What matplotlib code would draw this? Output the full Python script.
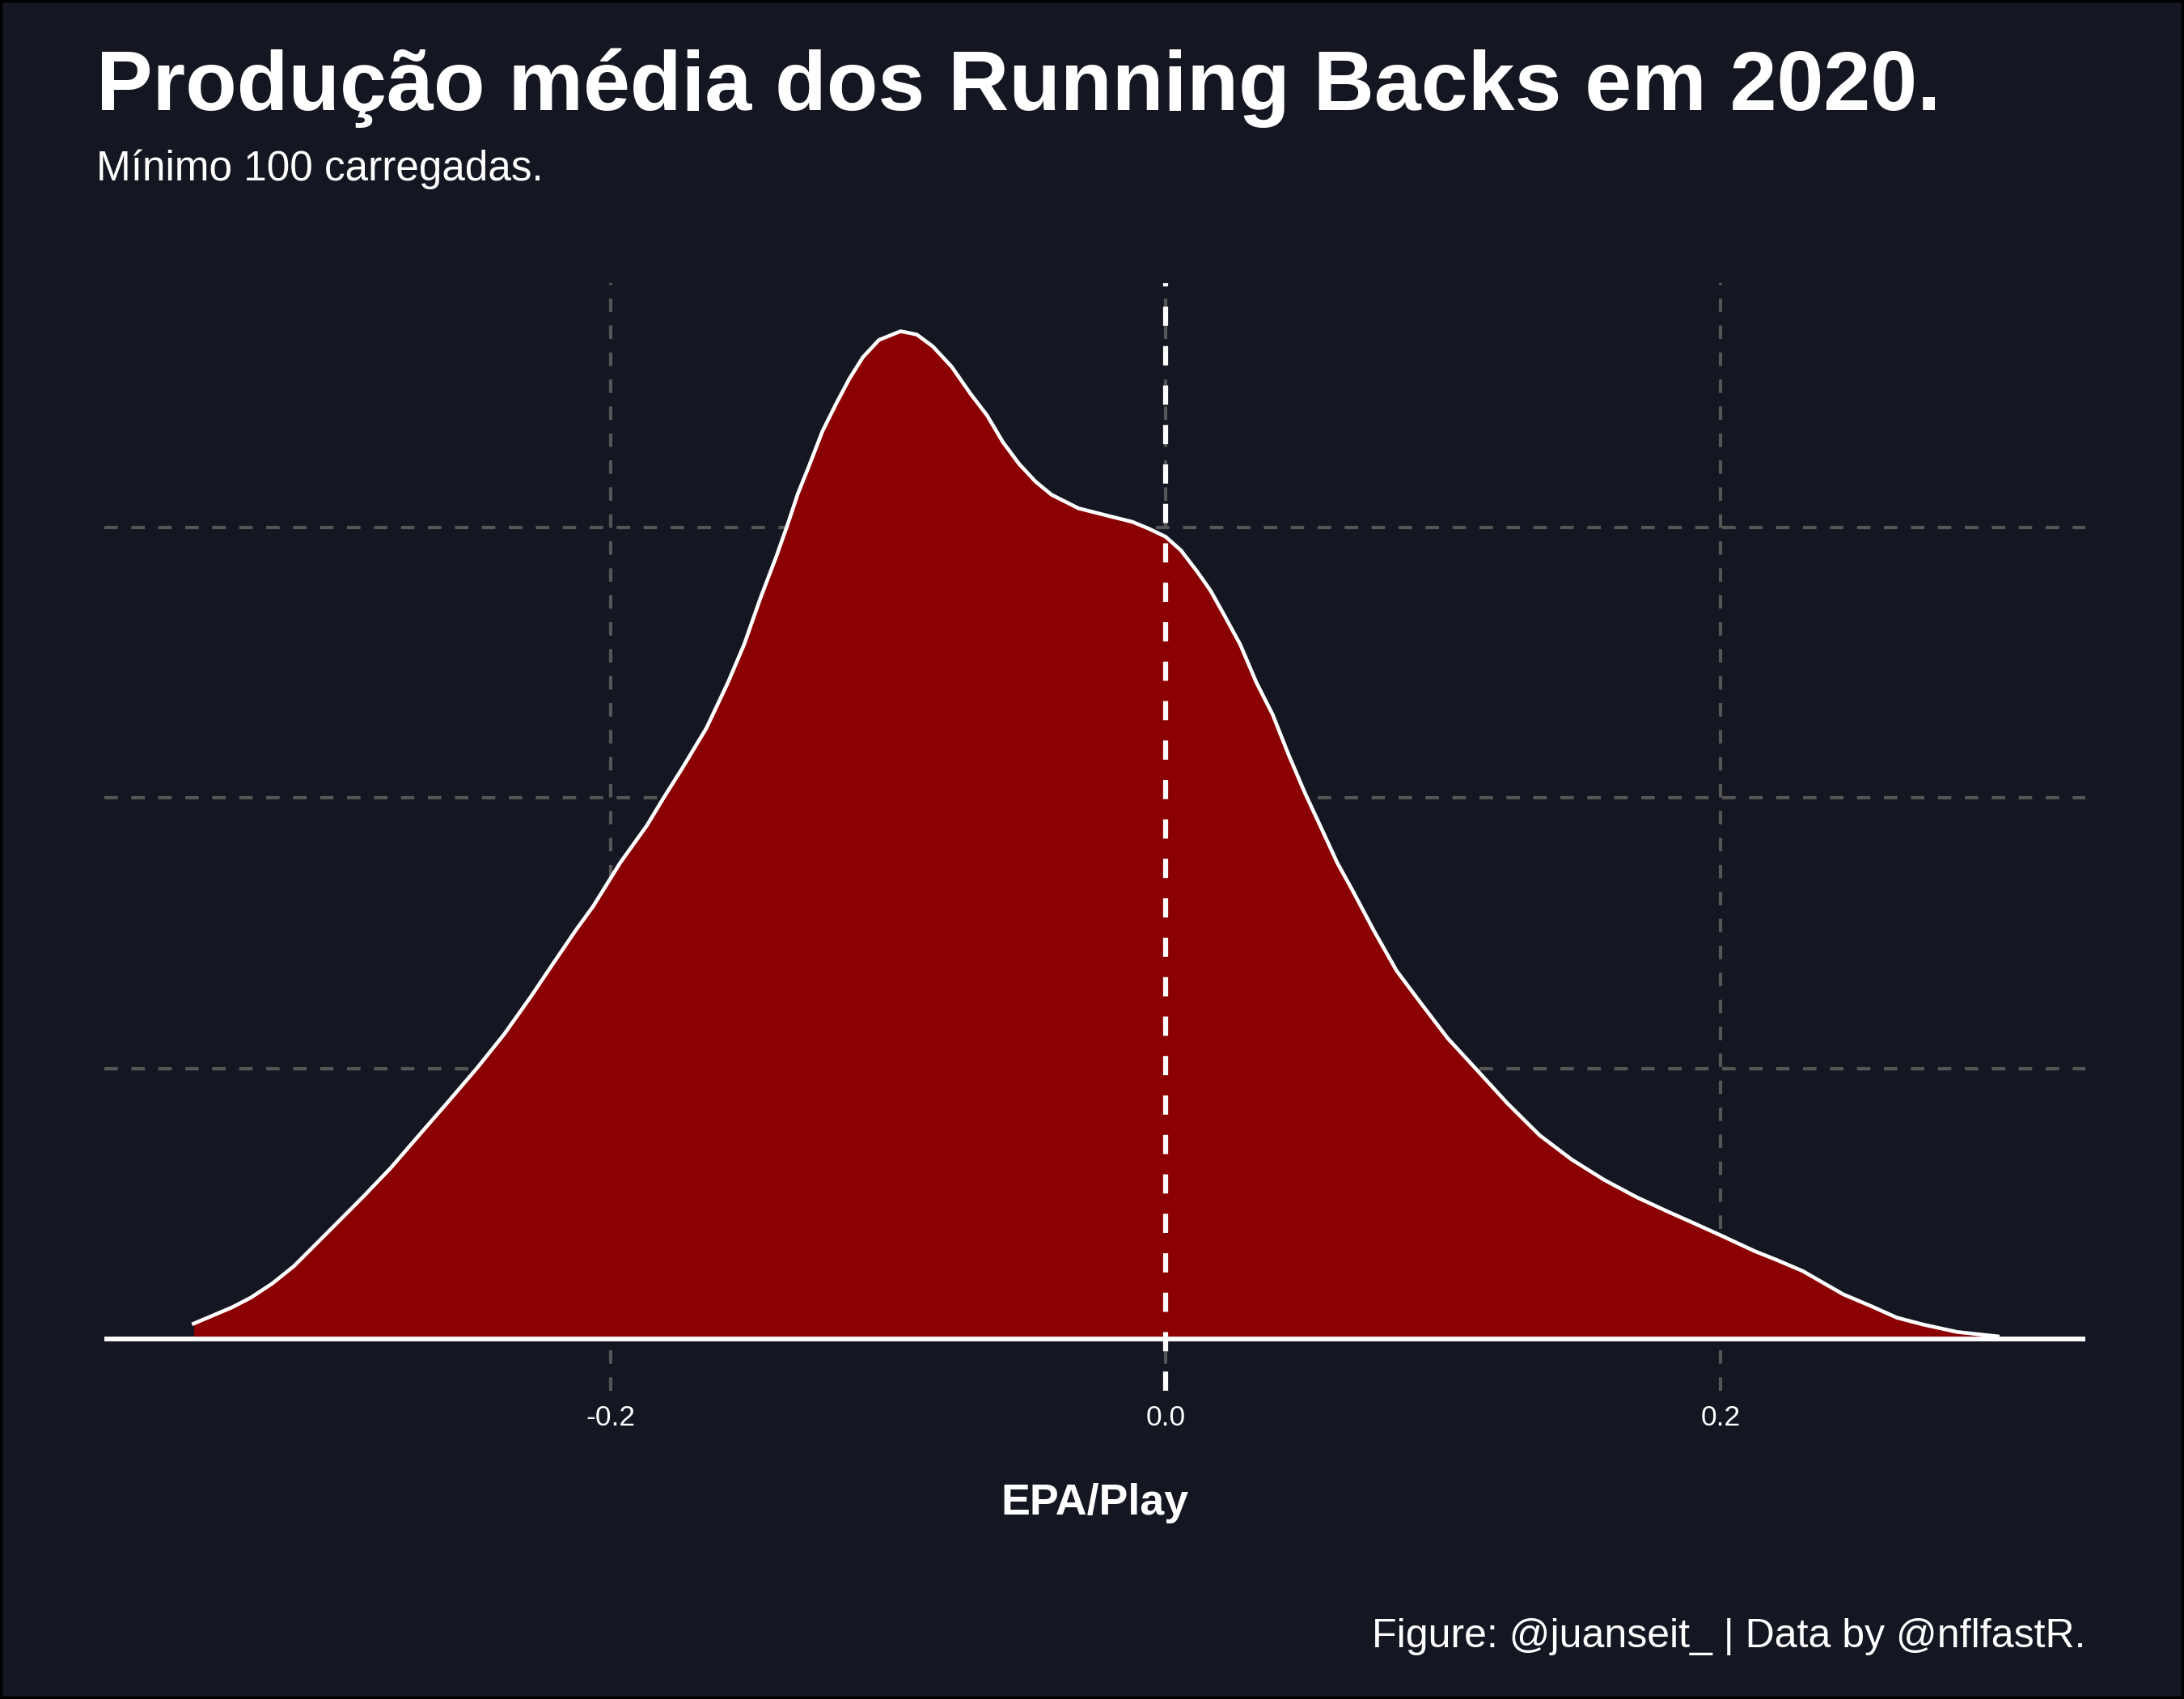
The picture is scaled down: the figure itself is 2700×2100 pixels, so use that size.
import matplotlib
matplotlib.use("Agg")
import matplotlib.pyplot as plt
from matplotlib.patches import Rectangle

# ---- data (EPA/Play vs density) ----
epa = [-0.3503, -0.3434, -0.3365, -0.3297, -0.3220, -0.3142, -0.3064, -0.2986,
       -0.2889, -0.2792, -0.2695, -0.2598, -0.2481, -0.2384, -0.2287, -0.2209,
       -0.2126, -0.2063, -0.1966, -0.1869, -0.1810, -0.1743, -0.1655, -0.1577,
       -0.1519, -0.1461, -0.1402, -0.1364, -0.1325, -0.1286, -0.1237, -0.1189,
       -0.1140, -0.1091, -0.1033, -0.0955, -0.0897, -0.0839, -0.0771, -0.0703,
       -0.0644, -0.0586, -0.0528, -0.0469, -0.0411, -0.0314, -0.0187, -0.0120,
       -0.0061, 0.0000, 0.0055, 0.0114, 0.0162, 0.0211, 0.0269, 0.0327,
       0.0386, 0.0444, 0.0502, 0.0561, 0.0619, 0.0673, 0.0750, 0.0833,
       0.0920, 0.1017, 0.1115, 0.1231, 0.1348, 0.1464, 0.1581, 0.1698,
       0.1814, 0.1902, 0.1999, 0.2125, 0.2201, 0.2297, 0.2443, 0.2540,
       0.2636, 0.2733, 0.2854, 0.2999]
density = [0.058, 0.088, 0.118, 0.154, 0.206, 0.270, 0.350, 0.430,
           0.530, 0.634, 0.749, 0.863, 1.003, 1.127, 1.267, 1.386,
           1.511, 1.600, 1.760, 1.899, 1.999, 2.108, 2.258, 2.427,
           2.567, 2.736, 2.895, 3.005, 3.125, 3.224, 3.354, 3.453,
           3.548, 3.628, 3.692, 3.724, 3.712, 3.668, 3.593, 3.493,
           3.414, 3.314, 3.234, 3.169, 3.120, 3.070, 3.037, 3.020,
           2.995, 2.965, 2.915, 2.836, 2.766, 2.676, 2.567, 2.427,
           2.308, 2.158, 2.019, 1.889, 1.760, 1.660, 1.511, 1.361,
           1.242, 1.112, 1.003, 0.873, 0.754, 0.664, 0.589, 0.525,
           0.470, 0.430, 0.385, 0.325, 0.294, 0.252, 0.166, 0.124,
           0.080, 0.054, 0.027, 0.011]
x_ticks = [-0.2, 0.0, 0.2]
x_tick_labels = ["-0.2", "0.0", "0.2"]
y_grid = [1, 2, 3]
ref_line = 0.0

title = "Produção média dos Running Backs em 2020."
subtitle = "Mínimo 100 carregadas."
xlabel = "EPA/Play"
caption = "Figure: @juanseit_ | Data by @nflfastR."

BG = "#141721"
FILL = "#8B0000"
GRID = "#555555"

plt.rcParams['font.family'] = ['Liberation Sans', 'DejaVu Sans']

fig = plt.figure(figsize=(9, 7), dpi=300, facecolor=BG)
W, H = 2700, 2100
left, right, top, bottom = 129, 2578, 350, 1719
ax = fig.add_axes([left / W, 1 - bottom / H, (right - left) / W, (bottom - top) / H])
ax.set_facecolor(BG)
for s in ax.spines.values():
    s.set_visible(False)

ax.set_xlim(-0.3825, 0.3315)
ax.set_ylim(-0.190, (1655.5 - top) / 334.6)

# grid
for xv in x_ticks:
    ax.axvline(xv, color=GRID, lw=1.0, dashes=(4, 4), zorder=1)
for yv in y_grid:
    ax.axhline(yv, color=GRID, lw=1.0, dashes=(4, 4), zorder=1)

ax.fill_between(epa, 0, density, color=FILL, lw=0, zorder=2)
ax.plot(epa, density, color="white", lw=1.1, zorder=3, solid_joinstyle='round')
ax.axhline(0, color="white", lw=1.4, zorder=4)
ax.axvline(ref_line, color="white", lw=1.5, dashes=(3.8, 4.0), zorder=5)

ax.set_xticks(x_ticks)
ax.set_xticklabels(x_tick_labels)
ax.set_yticks([])
ax.tick_params(axis='x', length=0, pad=4, labelsize=8.5, labelcolor="white")

fig.text(left / W + (right - left) / W / 2, 1 - 1872 / H, xlabel, ha='center', va='baseline',
         color='white', fontsize=12.9, fontweight='bold')
fig.text(119 / W, 1 - 136 / H, title, ha='left', va='baseline', color='white',
         fontsize=25, fontweight='bold')
fig.text(119 / W, 1 - 223 / H, subtitle, ha='left', va='baseline', color='white',
         fontsize=12.3)
fig.text(right / W, 1 - 2036 / H, caption, ha='right', va='baseline', color='white',
         fontsize=12.0)

fig.add_artist(Rectangle((0, 0), 1, 1, transform=fig.transFigure, fill=False,
                         edgecolor='black', lw=1.5, zorder=10))

fig.savefig("out.png", dpi=300, facecolor=BG)
